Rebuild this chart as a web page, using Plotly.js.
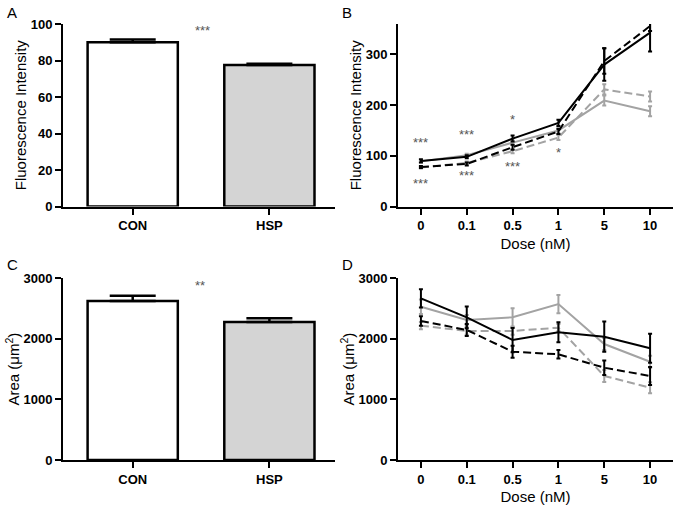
<!DOCTYPE html>
<html>
<head>
<meta charset="utf-8">
<script src="https://cdn.plot.ly/plotly-3.0.1.min.js"></script>
<style>html,body{margin:0;padding:0;background:#fff;}#chart{width:677px;height:508px;}</style>
</head>
<body>
<div id="chart"></div>
<script>
// ---- Data ----
const groups = ['CON', 'HSP'];
const fiBarValues = [90, 77.5];
const fiBarErr = [1.5, 0.7];
const areaBarValues = [2625, 2278];
const areaBarErr = [88, 62];

const doses = ['0', '0.1', '0.5', '1', '5', '10'];
// Panel B: fluorescence intensity
const fiBlackSolid = [90, 98, 134, 165, 280, 343];
const fiBlackSolidErr = [3, 3, 6, 6, 32, 37];
const fiBlackDashed = [78, 84, 117, 148, 287, 356];
const fiBlackDashedErr = [2, 3, 5, 5, 25, 10];
const fiGraySolid = [89, 101, 126, 150, 209, 188];
const fiGraySolidErr = [2, 3, 4, 6, 10, 10];
const fiGrayDashed = [77, 86, 109, 136, 231, 217];
const fiGrayDashedErr = [2, 3, 4, 5, 10, 10];
// Panel D: area
const areaBlackSolid = [2668, 2356, 1981, 2108, 2036, 1844];
const areaBlackSolidErr = [150, 180, 200, 165, 250, 240];
const areaGraySolid = [2530, 2312, 2356, 2575, 1915, 1623];
const areaGraySolidErr = [120, 80, 150, 150, 100, 100];
const areaBlackDashed = [2295, 2147, 1788, 1745, 1524, 1387];
const areaBlackDashedErr = [80, 100, 100, 70, 120, 150];
const areaGrayDashed = [2218, 2130, 2130, 2185, 1387, 1194];
const areaGrayDashedErr = [60, 60, 60, 60, 100, 90];

// ---- Styles ----
const FONT = 'Arial, "Liberation Sans", sans-serif';
const GRAY = '#a3a3a3';
const DASH = '8px,4px';

function barTrace(vals, errs, xa, ya) {
  return {
    type: 'bar', x: groups, y: vals, xaxis: xa, yaxis: ya, width: 0.66,
    marker: {color: ['#ffffff', '#d4d4d4'], line: {color: '#000', width: 2.5}},
    error_y: {type: 'data', array: errs, arrayminus: [0, 0], symmetric: false,
              color: '#000', thickness: 2.5, width: 23},
    showlegend: false, hoverinfo: 'skip'
  };
}
function lineTrace(vals, errs, color, dash, xa, ya) {
  return {
    type: 'scatter', mode: 'lines', x: doses, y: vals, xaxis: xa, yaxis: ya,
    line: {color: color, width: 2, dash: dash},
    error_y: {type: 'data', array: errs, color: color, thickness: 2, width: 2},
    showlegend: false, hoverinfo: 'skip'
  };
}

const data = [
  barTrace(fiBarValues, fiBarErr, 'x', 'y'),
  lineTrace(fiGrayDashed, fiGrayDashedErr, GRAY, DASH, 'x2', 'y2'),
  lineTrace(fiGraySolid, fiGraySolidErr, GRAY, 'solid', 'x2', 'y2'),
  lineTrace(fiBlackDashed, fiBlackDashedErr, '#000', DASH, 'x2', 'y2'),
  lineTrace(fiBlackSolid, fiBlackSolidErr, '#000', 'solid', 'x2', 'y2'),
  barTrace(areaBarValues, areaBarErr, 'x3', 'y3'),
  lineTrace(areaGrayDashed, areaGrayDashedErr, GRAY, DASH, 'x4', 'y4'),
  lineTrace(areaGraySolid, areaGraySolidErr, GRAY, 'solid', 'x4', 'y4'),
  lineTrace(areaBlackDashed, areaBlackDashedErr, '#000', DASH, 'x4', 'y4'),
  lineTrace(areaBlackSolid, areaBlackSolidErr, '#000', 'solid', 'x4', 'y4')
];

const W = 677, H = 508;
const xdomL = [63 / W, 335 / W];
const xdomR = [398 / W, 673 / W];
const ydomT = [1 - 206.5 / H, 1 - 24 / H];
const ydomB = [1 - 460 / H, 1 - 278.3 / H];

function xax(domain, range, anchor, title) {
  const a = {
    domain: domain, type: 'category', range: range, anchor: anchor,
    showline: true, linecolor: '#000', linewidth: 2, mirror: false,
    ticks: 'outside', ticklen: 6, tickwidth: 2, tickcolor: '#000',
    showgrid: false, zeroline: false, fixedrange: true,
    tickfont: {family: FONT, size: 13, color: '#000', weight: 'bold'}
  };
  if (title) a.title = {text: title, font: {family: FONT, size: 15, color: '#000'}, standoff: 6};
  return a;
}
function yax(domain, range, dtick, anchor, title) {
  return {
    domain: domain, range: range, dtick: dtick, anchor: anchor,
    showline: true, linecolor: '#000', linewidth: 2,
    ticks: 'outside', ticklen: 6, tickwidth: 2, tickcolor: '#000',
    showgrid: false, zeroline: false, fixedrange: true,
    tickfont: {family: FONT, size: 13, color: '#000', weight: 'bold'},
    title: {text: title, font: {family: FONT, size: 15, color: '#000'}, standoff: 0}
  };
}

const starFont = {family: FONT, size: 13, color: '#555'};
function star(text, x, y, xr, yr) {
  return {text: text, x: x, y: y, xref: xr, yref: yr, showarrow: false, font: starFont};
}
function letter(text, x, y) {
  return {text: text, x: x / W, y: 1 - y / H, xref: 'paper', yref: 'paper',
          xanchor: 'left', yanchor: 'middle', showarrow: false,
          font: {family: FONT, size: 15, color: '#000'}};
}

const layout = {
  width: W, height: H,
  margin: {l: 0, r: 0, t: 0, b: 0},
  paper_bgcolor: '#fff', plot_bgcolor: 'rgba(0,0,0,0)',
  font: {family: FONT, color: '#000'},
  xaxis: xax(xdomL, [-0.51, 1.48], 'y'),
  yaxis: yax(ydomT, [0, 100], 20, 'x', 'Fluorescence Intensity'),
  xaxis2: xax(xdomR, [-0.5, 5.5], 'y2', 'Dose (nM)'),
  yaxis2: yax(ydomT, [0, 360], 100, 'x2', 'Fluorescence Intensity'),
  xaxis3: xax(xdomL, [-0.51, 1.48], 'y3'),
  yaxis3: yax(ydomB, [0, 3000], 1000, 'x3', 'Area (\u03bcm<sup>2</sup>)'),
  xaxis4: xax(xdomR, [-0.5, 5.5], 'y4', 'Dose (nM)'),
  yaxis4: yax(ydomB, [0, 3000], 1000, 'x4', 'Area (\u03bcm<sup>2</sup>)'),
  annotations: [
    letter('A', 5, 13), letter('B', 340, 13), letter('C', 5, 264), letter('D', 340, 264),
    star('***', 0.51, 96.5, 'x', 'y'),
    star('**', 0.49, 2880, 'x3', 'y3'),
    star('***', 0, 127, 'x2', 'y2'),
    star('***', 0, 45, 'x2', 'y2'),
    star('***', 1, 142, 'x2', 'y2'),
    star('***', 1, 61, 'x2', 'y2'),
    star('*', 2, 172, 'x2', 'y2'),
    star('***', 2, 78, 'x2', 'y2'),
    star('*', 3, 107, 'x2', 'y2')
  ]
};

Plotly.newPlot('chart', data, layout, {staticPlot: true, displayModeBar: false});
</script>
</body>
</html>
